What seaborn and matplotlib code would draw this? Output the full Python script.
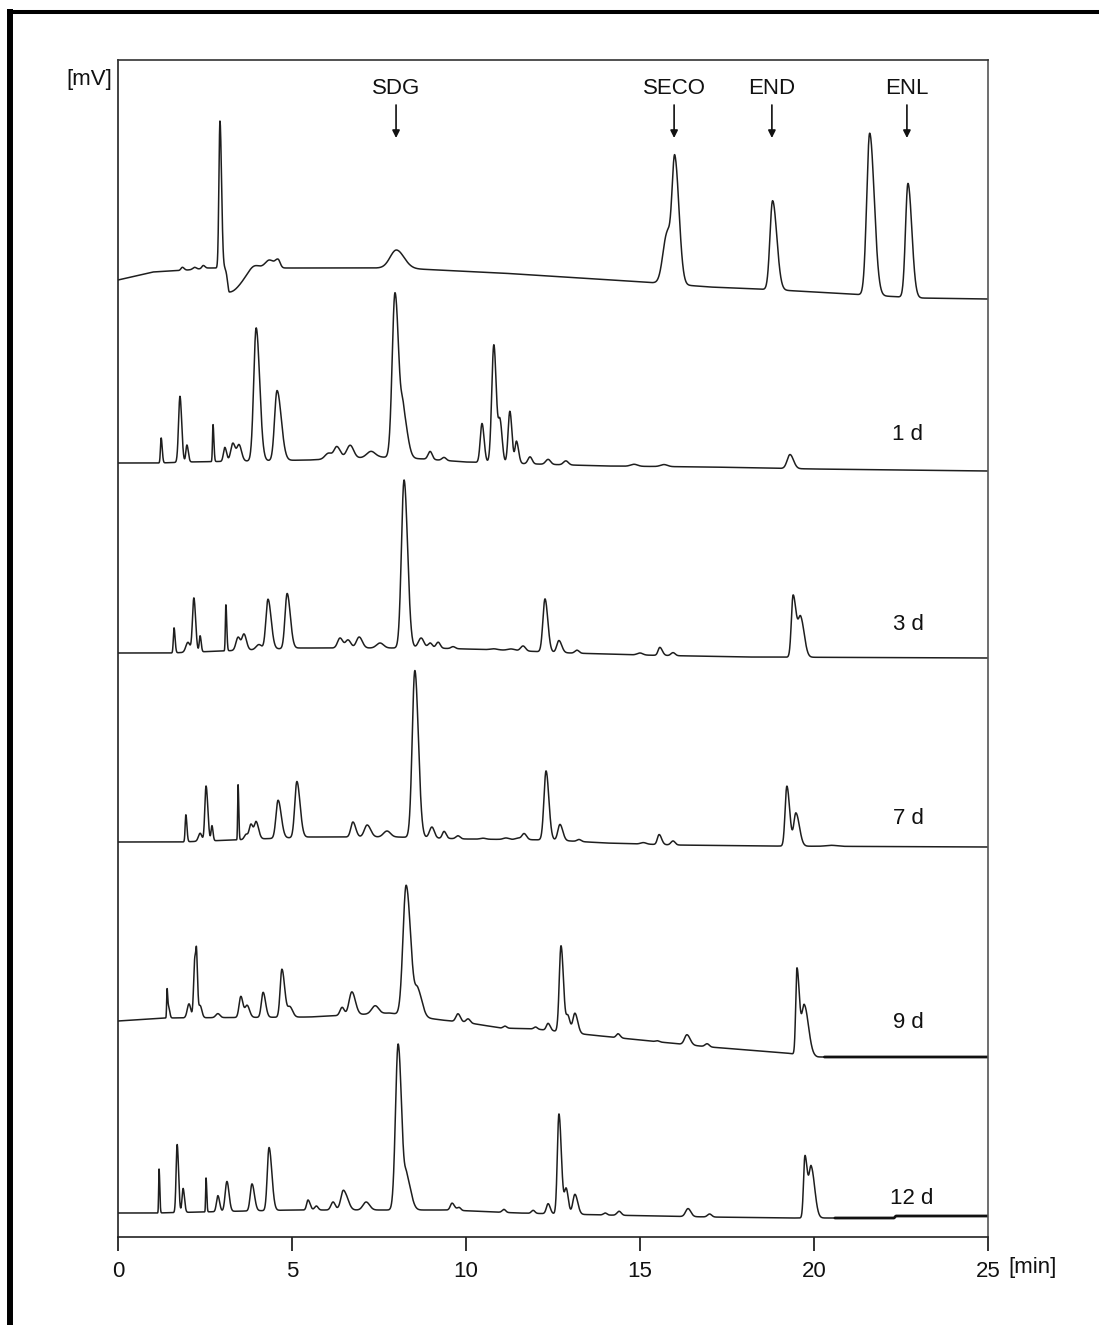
import numpy as np
import pandas as pd
import matplotlib
matplotlib.use("Agg")
import matplotlib.pyplot as plt
from matplotlib.lines import Line2D
from matplotlib import font_manager
import seaborn as sns

# ---------------------------------------------------------------------------
# Chromatogram data: retention time axis in minutes, signal in mV (arbitrary
# stacked units).  Each run is described by its baseline drift knots and its
# peak table: (retention time, height, left width, right width).
# ---------------------------------------------------------------------------
samples = ["Standards", "1 d", "3 d", "7 d", "9 d", "12 d"]

std_drift = [(0, 0), (1.0, 8), (2.0, 10), (2.6, 12), (8.0, 12), (11.0, 7),
             (15.5, -3), (17.0, -7), (19.0, -10), (21.0, -14), (23.0, -18), (25.0, -19)]
std_peaks = [(1.85, 3, .04, .05), (2.2, 2, .05, .05), (2.45, 3, .04, .05),
             (2.93, 147, .03, .045), (3.2, -24, .05, .35),
             (3.9, 5, .15, .15), (4.35, 8, .12, .12), (4.6, 8, .08, .06),
             (8.0, 18, .18, .22),
             (15.78, 50, .12, .10), (16.0, 125, .08, .12),
             (18.81, 89, .075, .12),
             (21.6, 162, .085, .13),
             (22.7, 114, .07, .11)]

d1_drift = [(0, 0), (1.2, 0), (2.0, 1), (5.5, 3), (7.5, 6), (8.8, 4), (10.0, 1),
            (12.0, -1), (14.0, -3), (17.0, -4), (20.0, -6), (25.0, -8)]
d1_peaks = [(1.24, 25, .02, .03), (1.78, 66, .04, .05), (1.98, 17, .03, .04),
            (2.73, 37, .015, .025), (3.07, 14, .04, .05), (3.30, 18, .06, .07),
            (3.48, 16, .06, .07), (3.97, 133, .07, .10), (4.57, 70, .07, .12),
            (6.05, 6, .1, .1), (6.29, 12, .08, .1), (6.67, 13, .1, .1), (7.27, 6, .12, .12),
            (7.96, 165, .08, .11), (8.2, 40, .06, .12),
            (8.97, 8, .06, .06), (9.37, 3, .06, .06),
            (10.46, 39, .05, .06), (10.80, 118, .06, .07), (10.98, 40, .05, .06),
            (11.26, 52, .05, .06), (11.45, 22, .04, .06),
            (11.84, 7, .06, .06), (12.36, 5, .07, .07), (12.87, 4, .07, .07),
            (14.83, 2, .1, .1), (15.69, 2, .1, .1), (19.31, 14, .08, .1)]

d3_drift = [(0, 0), (1.5, 0), (5.2, 5), (9.0, 5), (11.0, 3), (13.0, 0),
            (15.0, -2), (18.0, -4), (25.0, -5)]
d3_peaks = [(1.61, 25, .02, .03), (2.01, 10, .06, .06), (2.18, 54, .04, .05),
            (2.36, 16, .025, .03), (3.10, 46, .015, .025),
            (3.45, 13, .06, .06), (3.62, 16, .06, .07), (4.05, 5, .08, .08),
            (4.31, 50, .06, .09), (4.86, 55, .06, .09),
            (6.38, 10, .07, .08), (6.61, 8, .07, .08), (6.93, 11, .08, .09), (7.53, 5, .1, .1),
            (8.22, 168, .075, .10),
            (8.71, 10, .08, .08), (8.97, 5, .06, .06), (9.20, 6, .06, .06), (9.63, 2, .06, .06),
            (10.8, 1, .1, .1), (11.3, 1.5, .1, .1), (11.64, 5, .07, .07),
            (12.27, 53, .06, .08), (12.67, 12, .06, .08), (13.19, 3, .06, .06),
            (15.0, 2, .08, .08), (15.57, 8, .05, .07), (15.95, 3, .06, .06),
            (19.40, 62, .05, .09), (19.62, 38, .07, .1)]

d7_drift = [(0, 0), (1.8, 0), (5.5, 5), (8.0, 5), (10.0, 3), (12.5, 2),
            (14.0, -1), (16.0, -3), (18.5, -4), (25.0, -5)]
d7_peaks = [(1.95, 27, .02, .03), (2.36, 8, .05, .05), (2.53, 55, .035, .05),
            (2.70, 15, .025, .03), (3.45, 55, .012, .02),
            (3.68, 5, .05, .05), (3.82, 15, .05, .06), (3.97, 17, .05, .07),
            (4.60, 38, .06, .09), (5.14, 56, .06, .09),
            (6.75, 15, .06, .08), (7.16, 12, .08, .1), (7.73, 6, .1, .1),
            (8.53, 167, .075, .10),
            (9.02, 11, .07, .07), (9.37, 7, .05, .06), (9.77, 3, .06, .06), (10.49, 1, .08, .08),
            (11.15, 1.5, .08, .08), (11.5, 1.5, .08, .08), (11.67, 6, .06, .07),
            (12.30, 69, .06, .08), (12.70, 16, .06, .08), (13.25, 2, .06, .06),
            (15.1, 1.5, .08, .08), (15.55, 10, .05, .07), (15.95, 4, .06, .06),
            (19.22, 60, .05, .08), (19.48, 33, .06, .1), (20.5, 1, .15, .15)]

d9_drift = [(0, 0), (1.3, 3), (5.5, 4), (7.8, 8), (9.3, 1), (10.1, -2), (11.0, -7),
            (12.0, -8), (13.6, -14), (15.0, -19), (17.0, -26), (19.2, -32),
            (20.1, -36), (25.0, -36)]
d9_peaks = [(1.41, 29, .012, .02), (1.46, 10, .02, .03),
            (2.04, 14, .05, .05), (2.21, 60, .035, .045), (2.26, 35, .02, .03), (2.36, 12, .04, .05),
            (2.87, 4, .06, .06), (3.53, 21, .05, .06), (3.71, 12, .06, .07),
            (4.17, 25, .05, .07), (4.71, 48, .05, .08), (4.94, 10, .06, .08),
            (6.44, 8, .06, .06), (6.72, 23, .08, .1), (7.39, 8, .1, .1),
            (8.28, 130, .09, .13), (8.62, 25, .08, .12),
            (9.77, 8, .06, .07), (10.06, 4, .06, .06), (11.12, 2, .05, .05), (12.0, 2, .05, .05),
            (12.36, 7, .05, .06), (12.73, 86, .05, .07), (12.93, 16, .05, .06), (13.13, 20, .06, .08),
            (14.37, 4, .05, .06), (15.5, 1, .05, .05), (16.35, 10, .07, .09), (16.93, 3, .06, .06),
            (19.51, 86, .035, .07), (19.72, 50, .07, .12)]

d12_drift = [(0, 0), (1.1, 0), (5.0, 3), (9.5, 3), (11.5, 0), (14.0, -2), (17.0, -4),
             (19.2, -5), (22.3, -5), (22.35, -3), (25.0, -3)]
d12_peaks = [(1.18, 44, .012, .02), (1.70, 68, .03, .04), (1.87, 24, .03, .04),
             (2.53, 34, .012, .02), (2.87, 16, .04, .05), (3.13, 30, .05, .06),
             (3.85, 27, .05, .07), (4.34, 63, .05, .08),
             (5.46, 10, .04, .06), (5.7, 4, .05, .05), (6.18, 8, .06, .06),
             (6.45, 6, .05, .05), (6.52, 16, .1, .1), (7.13, 8, .09, .1),
             (8.05, 166, .075, .10), (8.3, 30, .06, .12),
             (9.6, 7, .05, .07), (9.8, 3, .05, .05), (11.09, 3, .05, .05), (11.93, 3, .05, .05),
             (12.36, 10, .05, .06), (12.67, 100, .045, .07), (12.88, 25, .05, .06), (13.13, 20, .06, .08),
             (14.0, 2, .05, .05), (14.4, 4, .06, .06), (16.38, 8, .07, .08), (17.0, 3, .06, .06),
             (19.74, 62, .04, .07), (19.92, 50, .06, .1)]

drifts = [std_drift, d1_drift, d3_drift, d7_drift, d9_drift, d12_drift]
peak_tables = [std_peaks, d1_peaks, d3_peaks, d7_peaks, d9_peaks, d12_peaks]

# compound markers above the standards run
compounds = ["SDG", "SECO", "END", "ENL"]
compound_rt = [7.99, 15.98, 18.79, 22.67]

# ---------------------------------------------------------------------------
# Layout
# ---------------------------------------------------------------------------
offsets = [957, 774, 584, 395, 216, 24]          # vertical stacking of runs
label_pos = [None, (22.7, 803), (22.7, 613), (22.7, 418), (22.7, 214), (22.8, 39)]
noisy_tail = [None, None, None, None, (20.3, 25.0), (20.6, 25.0)]

W, H = 1099, 1325
t = np.linspace(0, 25, 6001)


def peak_shape(x, rt, h, sl, sr):
    s = np.where(x < rt, sl, sr)
    return h * np.exp(-0.5 * ((x - rt) / s) ** 2)


frames = []
for name, off, drift, peaks in zip(samples, offsets, drifts, peak_tables):
    kt, kv = zip(*drift)
    y = off + np.interp(t, kt, kv)
    for rt, h, sl, sr in peaks:
        y = y + peak_shape(t, rt, h, sl, sr)
    frames.append(pd.DataFrame({"time": t, "signal": y, "sample": name}))
df = pd.concat(frames, ignore_index=True)

sns.set_style("white")
narrow = [f.name for f in font_manager.fontManager.ttflist if f.name == "Liberation Sans Narrow"]
plt.rcParams["font.family"] = ["Liberation Sans", "DejaVu Sans"]
tick_family = ["Liberation Sans Narrow", "Liberation Sans"] if narrow else ["Liberation Sans"]

fig = plt.figure(figsize=(W / 100, H / 100), dpi=100)
ax = fig.add_axes([118 / W, 1 - 1237 / H, (988 - 118) / W, (1237 - 60) / H])

ink = "#1e1e1e"
sns.lineplot(data=df, x="time", y="signal", units="sample", estimator=None,
             color=ink, linewidth=1.1, sort=False, legend=False, ax=ax)

# heavier detector noise at the end of the late runs
for name, tail in zip(samples, noisy_tail):
    if tail is None:
        continue
    seg = df[(df["sample"] == name) & (df["time"] >= tail[0]) & (df["time"] <= tail[1])]
    ax.plot(seg["time"], seg["signal"], color="#111111", linewidth=2.0)

ax.set_xlim(0, 25)
ax.set_ylim(0, 1237 - 60)
ax.set_xlabel("")
ax.set_ylabel("")
ax.set_yticks([])
ax.set_xticks([0, 5, 10, 15, 20, 25])
ax.tick_params(axis="x", direction="out", length=10, width=1.2, pad=7,
               labelsize=16, bottom=True, colors="#111111")
for lab in ax.get_xticklabels():
    lab.set_family(tick_family)
for side in ["left", "right", "top", "bottom"]:
    ax.spines[side].set_visible(True)
    ax.spines[side].set_linewidth(1.2)
    ax.spines[side].set_color("#222222")
ax.spines["right"].set_color("#555555")
ax.spines["top"].set_color("#333333")

# compound labels with arrows
for name, rt in zip(compounds, compound_rt):
    ax.text(rt, 1149, name, ha="center", va="center", fontsize=16, color="#111111")
    ax.annotate("", xy=(rt, 1099), xytext=(rt, 1132),
                arrowprops=dict(arrowstyle="-|>", color="#111111", lw=1.2,
                                mutation_scale=11, shrinkA=0, shrinkB=0))

# sampling-day labels
for name, pos in zip(samples, label_pos):
    if pos is None:
        continue
    ax.text(pos[0], pos[1], name, ha="center", va="center", fontsize=16, color="#111111")

# axis unit labels
fig.text(112 / W, 1 - 79 / H, "[mV]", ha="right", va="center", fontsize=16, color="#111111")
fig.text(1008 / W, 1 - 1268 / H, "[min]", ha="left", va="center", fontsize=16,
         color="#111111", family=tick_family)

# outer frame
fig.add_artist(Line2D([9.7 / W, 9.7 / W], [0, 1 - 9 / H], transform=fig.transFigure,
                      color="black", linewidth=4.3, solid_capstyle="butt"))
fig.add_artist(Line2D([7 / W, 1], [1 - 11.5 / H, 1 - 11.5 / H], transform=fig.transFigure,
                      color="black", linewidth=2.9, solid_capstyle="butt"))

fig.savefig("out.png", dpi=100)
